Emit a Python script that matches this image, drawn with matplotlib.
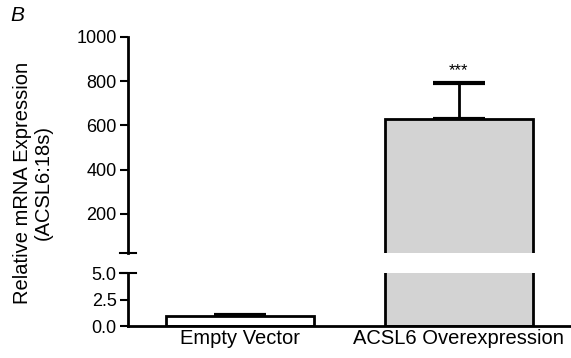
import matplotlib.pyplot as plt
import numpy as np

plt.rcParams['font.family'] = ['Liberation Sans', 'DejaVu Sans']

grupos = ['Empty Vector', 'ACSL6 Overexpression']
media = [1.0, 630.0]
error = [0.05, 160.0]
colores = ['white', '#d3d3d3']

ticks_arriba = [200, 400, 600, 800, 1000]
ticks_abajo = [0.0, 2.5, 5.0]

fig = plt.figure(figsize=(5.71, 3.58), dpi=100)
ax_arriba = fig.add_axes([0.224, 0.293, 0.774, 0.604])
ax_abajo = fig.add_axes([0.224, 0.089, 0.774, 0.148])

x = np.arange(len(grupos))
for ax in (ax_arriba, ax_abajo):
    ax.bar(x, media, width=0.676, color=colores, edgecolor='black',
           linewidth=2, zorder=2)
    ax.errorbar(x, media, yerr=[np.zeros(len(error)), error], fmt='none',
                ecolor='black', elinewidth=2, capsize=19, capthick=3, zorder=1)
    ax.set_xlim(-0.51, 1.507)
    for lado in ('top', 'right'):
        ax.spines[lado].set_visible(False)
    ax.spines['left'].set_linewidth(2)
    ax.spines['bottom'].set_linewidth(2)
    ax.tick_params(axis='y', direction='out', length=6, width=1.5,
                   labelsize=13, pad=2)

# Parte superior
ax_arriba.set_ylim(23, 1000)
ax_arriba.set_yticks(ticks_arriba)
ax_arriba.set_yticklabels([str(t) for t in ticks_arriba])
ax_arriba.spines['bottom'].set_visible(False)
ax_arriba.set_xticks([])
ax_arriba.text(x[1], 815, '***', ha='center', va='bottom', fontsize=12)

# Parte inferior
ax_abajo.set_ylim(0, 5)
ax_abajo.set_yticks(ticks_abajo)
ax_abajo.set_yticklabels(['%.1f' % t for t in ticks_abajo])
ax_abajo.set_xticks(x)
ax_abajo.set_xticklabels(grupos, fontsize=14.5)
ax_abajo.tick_params(axis='x', length=0, pad=2)

# Marcas del corte en el eje
for ax, yy in ((ax_arriba, 0), (ax_abajo, 1)):
    ax.plot([-0.018, 0.018], [yy, yy], transform=ax.transAxes, color='black',
            linewidth=1.5, clip_on=False)

fig.text(0.058, 0.49, 'Relative mRNA Expression\n(ACSL6:18s)', rotation=90,
         ha='center', va='center', fontsize=14.5, linespacing=1.1)
fig.text(0.018, 0.957, 'B', fontsize=15, style='italic', ha='left', va='center')

fig.savefig('out.png', dpi=100)
